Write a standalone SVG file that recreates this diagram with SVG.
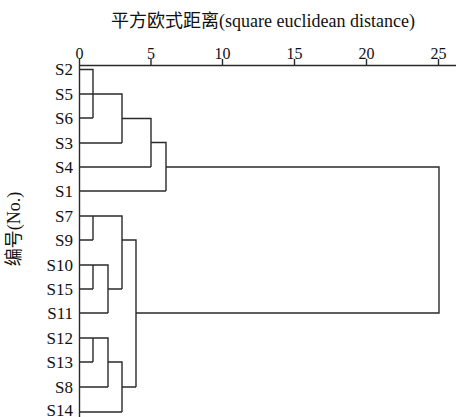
<svg xmlns="http://www.w3.org/2000/svg" width="456" height="417" viewBox="0 0 456 417">
<style>
text{font-family:'Liberation Serif','Times New Roman','Noto Sans CJK SC',serif;fill:#111;}
.lab{font-size:17px;text-anchor:end;}
.tick{font-size:16px;text-anchor:middle;}
.ln{stroke:#2a2a2a;stroke-width:1.4;fill:none;}
</style>
<rect width="456" height="417" fill="#fff"/>
<text x="263" y="27" font-size="18" text-anchor="middle">平方欧式距离(square euclidean distance)</text>
<text x="20" y="229" font-size="18" text-anchor="middle" transform="rotate(-90 20 229)">编号(No.)</text>
<g id="axis">
<path class="ln" d="M79.5 65.5H456M79.5 65.5V417M79.5 59V65.5M151 59V65.5M222.5 59V65.5M294.5 59V65.5M366.5 59V65.5M438.5 59V65.5"/>
<text class="tick" x="79.5" y="59">0</text>
<text class="tick" x="151" y="59">5</text>
<text class="tick" x="222.5" y="59">10</text>
<text class="tick" x="294.5" y="59">15</text>
<text class="tick" x="366.5" y="59">20</text>
<text class="tick" x="438.5" y="59">25</text>
</g>
<g id="S2"><text class="lab" x="73" y="75">S2</text></g>
<g id="S5"><text class="lab" x="73" y="100">S5</text></g>
<g id="S6"><text class="lab" x="73" y="124">S6</text></g>
<g id="S3"><text class="lab" x="73" y="149">S3</text></g>
<g id="S4"><text class="lab" x="73" y="173">S4</text></g>
<g id="S1"><text class="lab" x="73" y="197">S1</text></g>
<g id="S7"><text class="lab" x="73" y="222">S7</text></g>
<g id="S9"><text class="lab" x="73" y="246">S9</text></g>
<g id="S10"><text class="lab" x="73" y="271">S10</text></g>
<g id="S15"><text class="lab" x="73" y="295">S15</text></g>
<g id="S11"><text class="lab" x="73" y="319">S11</text></g>
<g id="S12"><text class="lab" x="73" y="344">S12</text></g>
<g id="S13"><text class="lab" x="73" y="368">S13</text></g>
<g id="S8"><text class="lab" x="73" y="393">S8</text></g>
<g id="S14"><text class="lab" x="73" y="416">S14</text></g>
<g id="connectors" class="ln">
<path d="M79.5 69.5H93V118M79.5 94H122V143M79.5 118H93M79.5 143H122M122 118.5H151V167M79.5 167H151M151 142.5H166V191M79.5 191H166M166 167H439V313H136"/>
<path d="M79.5 216H122V289M93 216V240M79.5 240H93M122 240H136V387M79.5 265H108V313M93 265V289M79.5 289H93M108 289H122M79.5 313H108"/>
<path d="M79.5 338H108V387M93 338V362M79.5 362H93M108 362H122V412M79.5 387H108M79.5 412H122M122 387H136"/>
</g>
</svg>
